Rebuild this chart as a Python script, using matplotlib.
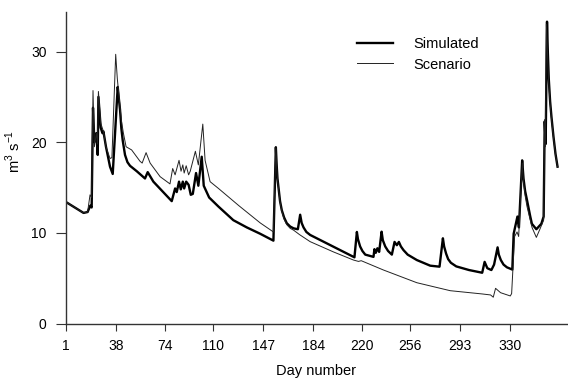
import matplotlib
matplotlib.use("Agg")
import matplotlib.pyplot as plt

plt.rcParams["font.family"] = ["Liberation Sans", "DejaVu Sans"]
plt.rcParams["mathtext.fontset"] = "custom"
plt.rcParams["mathtext.rm"] = "Liberation Sans"

# Simulated flow (day, m3/s)
sim_day = [1, 14, 17, 19, 20, 21, 22, 23.5, 24.5, 25, 26.7, 28, 28.7, 30.6, 33.6,
           35.6, 39.3, 40, 41, 42, 43, 44.7, 46.5, 48.4, 53.4, 59.5, 61.5, 65.7,
           79.3, 81.8, 83, 84.7, 86, 87.5, 88.5, 90, 91.8, 93.4, 94.9, 97.3, 99,
           101.5, 103, 105.2, 107, 113.9, 124.9, 134.9, 144.8, 154.6, 156.4, 157,
           157.6, 158.3, 159.5, 160.8, 162.5, 164.5, 167, 169.5, 172.7, 174.4,
           175.5, 176.9, 179, 181.8, 199, 214.6, 216.4, 217.2, 218.8, 220.5,
           222.6, 228.7, 229.4, 230.4, 231.6, 232.9, 234.7, 235.6, 237.4, 239.5,
           242.3, 244.3, 246, 247.5, 249, 250.9, 254, 260.8, 270.7, 277.6, 280.1,
           281, 282.5, 284, 286, 290, 299.4, 309.2, 311, 313, 316, 318, 320.6,
           321.5, 323, 325, 327.5, 331.5, 332.5, 335.3, 336.4, 338.8, 339.8, 341,
           342.4, 344.8, 346, 349.3, 353, 354.7, 355.5, 356.2, 357.2, 357.8,
           358.5, 359.5, 360.5, 362, 363.5, 365]
sim_val = [13.4, 12.2, 12.3, 13.0, 12.8, 23.8, 20.0, 21.0, 18.6, 25.0, 21.6, 21.0,
           21.2, 19.5, 17.3, 16.5, 26.1, 25.0, 23.6, 21.5, 20.2, 18.6, 17.8, 17.4,
           16.8, 16.0, 16.7, 15.65, 13.5, 14.9, 14.5, 15.65, 14.8, 15.65, 14.9,
           15.65, 15.3, 14.2, 14.3, 16.6, 15.2, 18.4, 15.2, 14.5, 13.9, 12.9, 11.4,
           10.6, 9.9, 9.14, 19.45, 17.5, 16.0, 15.1, 13.5, 12.5, 11.7, 11.06, 10.7,
           10.5, 10.4, 12.0, 11.1, 10.6, 10.1, 9.77, 8.48, 7.3, 10.1, 9.3, 8.5, 8.0,
           7.6, 7.35, 8.2, 7.8, 8.3, 7.9, 10.13, 9.2, 8.5, 8.0, 7.6, 9.0, 8.64, 9.0,
           8.5, 8.1, 7.6, 7.0, 6.38, 6.27, 9.4, 8.5, 7.7, 7.1, 6.7, 6.3, 5.9, 5.6,
           6.8, 6.1, 5.9, 6.5, 8.4, 7.6, 7.0, 6.5, 6.2, 5.95, 9.9, 11.8, 10.6, 18.0,
           16.0, 14.6, 13.6, 11.8, 11.0, 10.4, 11.0, 11.8, 22.3, 19.8, 33.3, 30.0,
           27.0, 24.5, 22.8, 20.6, 18.7, 17.3]

# Scenario flow (day, m3/s)
scen_day = [1, 14, 17, 18.8, 20, 21, 22, 23.5, 24.3, 25, 26.7, 28.7, 30.6, 33.6,
            35, 37.8, 39, 40.5, 42, 43.5, 45.5, 49.6, 55.8, 57.4, 60.3, 63.3, 70.7,
            78, 80, 81.8, 84.7, 86.2, 87.5, 88.5, 90, 91.8, 93, 96.8, 99, 102.3,
            104, 107.7, 113.9, 129, 144.8, 154.6, 156.4, 157, 157.6, 158.3, 159.5,
            160.8, 162.5, 164.5, 167, 169.5, 174, 181.8, 199, 213.9, 217.6, 219.6,
            236.1, 260.8, 285.5, 309.2, 315.4, 317.4, 319.1, 322.8, 330, 331,
            333.2, 335, 336.2, 338.9, 339.8, 341, 342.4, 346.1, 349.3, 352.2,
            354.7, 355.4, 356, 356.7, 357.5, 358.3, 359.5, 360.5, 362, 363.5, 365]
scen_val = [13.4, 12.2, 12.3, 14.2, 13.9, 25.7, 19.5, 21.0, 19.8, 25.6, 22.1, 21.2,
            19.5, 18.2, 18.3, 29.7, 27.0, 24.7, 22.4, 21.0, 19.5, 19.15, 17.9,
            17.7, 18.85, 17.7, 16.2, 15.4, 17.1, 16.4, 18.0, 16.8, 17.5, 16.6,
            17.4, 16.4, 16.8, 19.0, 17.5, 22.0, 18.0, 15.65, 14.9, 13.0, 11.1,
            10.1, 19.4, 17.4, 15.9, 15.0, 13.4, 12.4, 11.5, 10.9, 10.5, 10.3, 9.8,
            9.03, 7.9, 7.0, 6.85, 6.93, 5.9, 4.5, 3.62, 3.26, 3.15, 2.9, 3.88,
            3.4, 3.04, 3.3, 9.6, 10.1, 9.6, 17.7, 15.6, 14.1, 12.9, 10.6, 9.5,
            10.5, 11.4, 22.5, 19.5, 33.0, 30.0, 27.0, 24.3, 22.6, 20.5, 18.6, 17.3]

day_ticks = [1, 38, 74, 110, 147, 184, 220, 256, 293, 330]

fig = plt.figure(figsize=(5.68, 3.78), dpi=100)
ax = fig.add_axes([66 / 568, 54.5 / 378, 501 / 568, 311.8 / 378])

ax.plot(sim_day, sim_val, color="black", lw=1.7, label="Simulated")
ax.plot(scen_day, scen_val, color="#222222", lw=0.7, label="Scenario")

ax.set_xlim(1, 372)
ax.set_ylim(0, 34.4)
ax.set_xticks(day_ticks)
ax.set_yticks([0, 10, 20, 30])

for side in ["top", "right"]:
    ax.spines[side].set_visible(False)
for side in ["left", "bottom"]:
    ax.spines[side].set_color("#333333")
    ax.spines[side].set_linewidth(1.0)

ax.tick_params(axis="x", length=5, width=0.8, pad=6, labelsize=10, color="#333333")
ax.tick_params(axis="y", length=7, width=0.8, pad=7, labelsize=10, color="#333333")

ax.set_xlabel("Day number", fontsize=10.5, labelpad=8)
ax.set_ylabel(r"m$^{\mathregular{3}}$ s$^{\mathregular{-1}}$", fontsize=10.5)
ax.yaxis.set_label_coords(-0.085, 0.553)

ax.legend(loc="upper left", bbox_to_anchor=(356.7 / 568, 1 - 37 / 378),
          bbox_transform=fig.transFigure, frameon=False, fontsize=10.5,
          handlelength=2.5, handletextpad=1.35, labelspacing=0.45,
          borderpad=0, borderaxespad=0)

plt.savefig("out.png", dpi=100)
